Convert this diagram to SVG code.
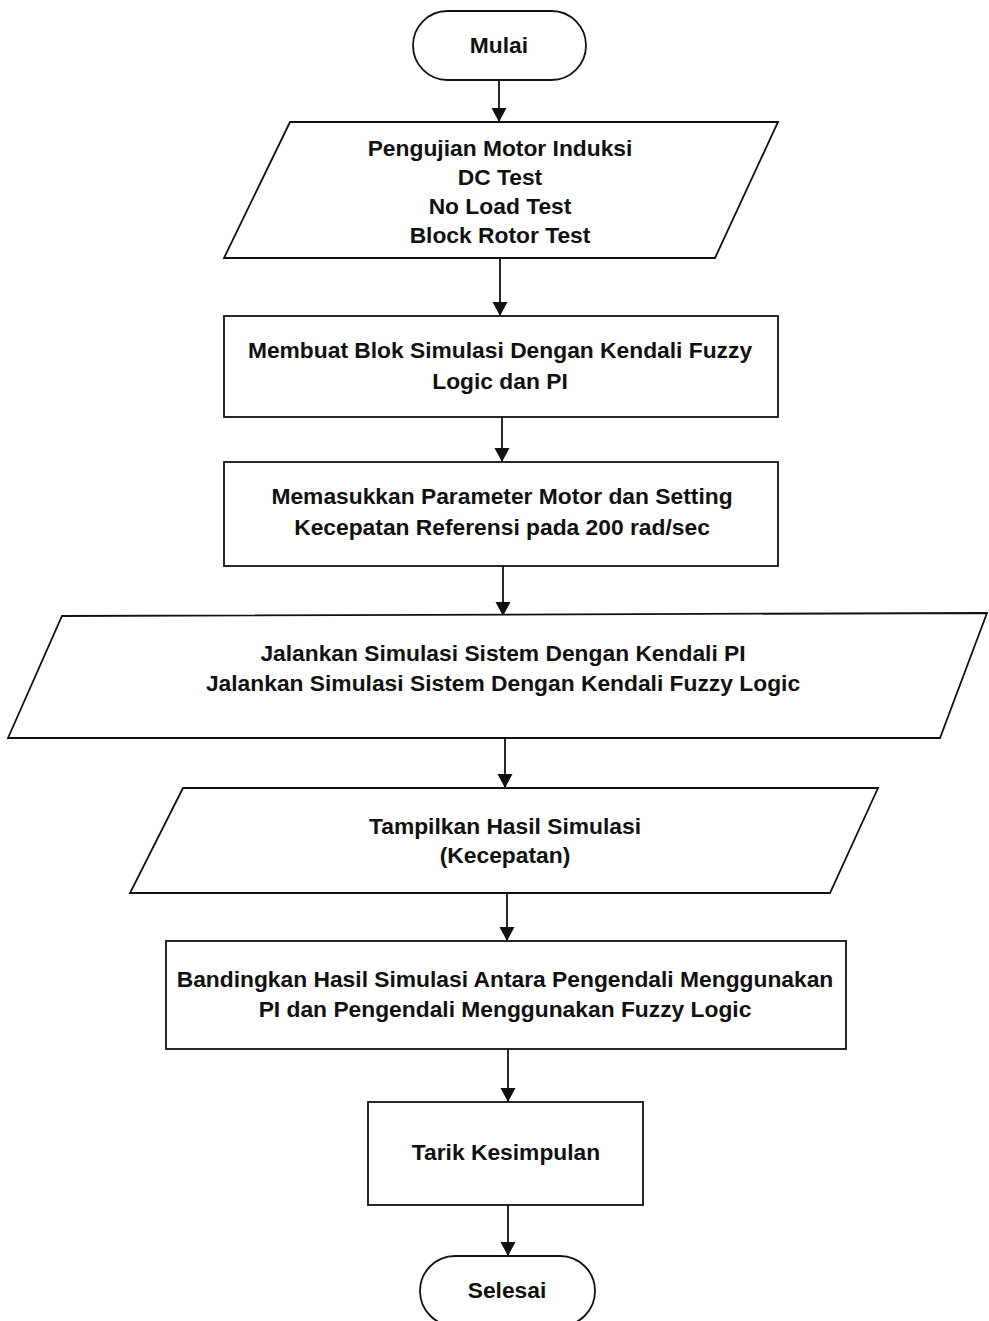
<svg xmlns="http://www.w3.org/2000/svg" width="989" height="1321" viewBox="0 0 989 1321">
  <style>
    .shape { fill: #ffffff; stroke: #111111; stroke-width: 1.8; }
    .lbl { font-family: "Liberation Sans", Arial, sans-serif; font-size: 22.8px; font-weight: bold; fill: #111111; text-anchor: middle; }
    .flow { stroke: #111111; stroke-width: 1.8; fill: none; marker-end: url(#arrow); }
  </style>
  <defs>
    <marker id="arrow" viewBox="0 0 14 18" refX="14" refY="9" markerWidth="14" markerHeight="18" markerUnits="userSpaceOnUse" orient="auto">
      <path d="M0,1.5 L14,9 L0,16.5 Z" fill="#111111"/>
    </marker>
  </defs>
  <rect width="989" height="1321" fill="#ffffff"/>

  <!-- connectors -->
  <g id="connectors">
    <line class="flow" x1="499" y1="80" x2="499" y2="122"/>
    <line class="flow" x1="500" y1="258" x2="500" y2="316"/>
    <line class="flow" x1="502" y1="417" x2="502" y2="462"/>
    <line class="flow" x1="503" y1="566" x2="503" y2="616"/>
    <line class="flow" x1="505" y1="738" x2="505" y2="788"/>
    <line class="flow" x1="507" y1="893" x2="507" y2="941"/>
    <line class="flow" x1="508" y1="1049" x2="508" y2="1102"/>
    <line class="flow" x1="508" y1="1205" x2="508" y2="1256"/>
  </g>

  <!-- start terminator -->
  <g id="mulai">
    <rect class="shape" x="413" y="11" width="173" height="69" rx="34.5"/>
    <text class="lbl" x="499" y="53">Mulai</text>
  </g>

  <!-- motor tests (input) -->
  <g id="pengujian">
    <polygon class="shape" points="290,122 778,122 715,258 224,258"/>
    <text class="lbl" x="500" y="156">Pengujian Motor Induksi</text>
    <text class="lbl" x="500" y="185">DC Test</text>
    <text class="lbl" x="500" y="214">No Load Test</text>
    <text class="lbl" x="500" y="243">Block Rotor Test</text>
  </g>

  <!-- build simulation block -->
  <g id="membuat-blok">
    <rect class="shape" x="224" y="316" width="554" height="101"/>
    <text class="lbl" x="500" y="358">Membuat Blok Simulasi Dengan Kendali Fuzzy</text>
    <text class="lbl" x="500" y="389">Logic dan PI</text>
  </g>

  <!-- parameter entry -->
  <g id="parameter">
    <rect class="shape" x="224" y="462" width="554" height="104"/>
    <text class="lbl" x="502" y="504">Memasukkan Parameter Motor dan Setting</text>
    <text class="lbl" x="502" y="535">Kecepatan Referensi pada 200 rad/sec</text>
  </g>

  <!-- run simulations -->
  <g id="jalankan">
    <polygon class="shape" points="62,616 987,613 940,738 8,738"/>
    <text class="lbl" x="503" y="661">Jalankan Simulasi Sistem Dengan Kendali PI</text>
    <text class="lbl" x="503" y="691">Jalankan Simulasi Sistem Dengan Kendali Fuzzy Logic</text>
  </g>

  <!-- show results -->
  <g id="tampilkan">
    <polygon class="shape" points="183,788 878,788 830,893 130,893"/>
    <text class="lbl" x="505" y="834">Tampilkan Hasil Simulasi</text>
    <text class="lbl" x="505" y="863">(Kecepatan)</text>
  </g>

  <!-- compare results -->
  <g id="bandingkan">
    <rect class="shape" x="166" y="941" width="680" height="108"/>
    <text class="lbl" x="505" y="987">Bandingkan Hasil Simulasi Antara Pengendali Menggunakan</text>
    <text class="lbl" x="505" y="1017">PI dan Pengendali Menggunakan Fuzzy Logic</text>
  </g>

  <!-- conclusion -->
  <g id="kesimpulan">
    <rect class="shape" x="368" y="1102" width="275" height="103"/>
    <text class="lbl" x="506" y="1160">Tarik Kesimpulan</text>
  </g>

  <!-- end terminator -->
  <g id="selesai">
    <rect class="shape" x="420" y="1256" width="175" height="70" rx="35"/>
    <text class="lbl" x="507" y="1298">Selesai</text>
  </g>
</svg>
